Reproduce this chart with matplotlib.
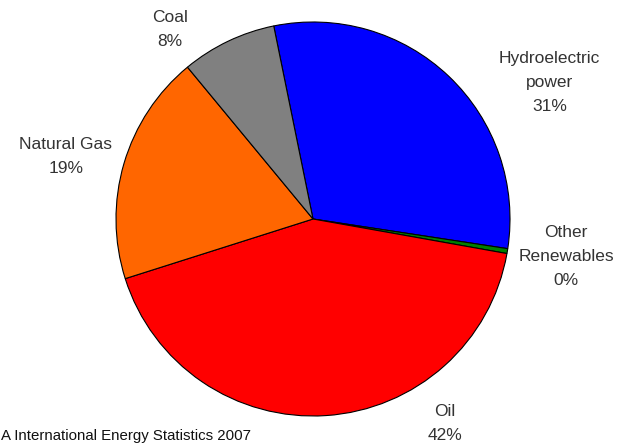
import matplotlib.pyplot as plt

plt.rcParams["font.family"] = ["Liberation Sans", "DejaVu Sans"]

# Share of energy source (%)
labels = ["Hydroelectric\npower", "Other\nRenewables", "Oil", "Natural Gas", "Coal"]
values = [30.6, 0.4, 42.3, 18.9, 7.8]
colors = ["#0000FF", "#008000", "#FF0000", "#FF6600", "#808080"]

# label positions (data coords, pie radius = 1)
label_pos = [(1.20, 0.695), (1.285, -0.19), (0.67, -1.04), (-1.254, 0.315), (-0.726, 0.964)]

W, H = 632, 445
cx, cy, r = 313, 219, 197

fig = plt.figure(figsize=(W / 100, H / 100), dpi=100)
ax = fig.add_axes([(cx - r) / W, (H - cy - r) / H, 2 * r / W, 2 * r / H])

ax.pie(values, colors=colors, startangle=101.5, counterclock=False,
       wedgeprops=dict(edgecolor="black", linewidth=0.8))
ax.set_xlim(-1, 1)
ax.set_ylim(-1, 1)
ax.set_aspect("equal")
ax.axis("off")

for lab, v, (x, y) in zip(labels, values, label_pos):
    ax.text(x, y, f"{lab}\n{v:.0f}%", ha="center", va="center", fontsize=12.5,
            color="#333333", linespacing=1.75, clip_on=False)

fig.text(1 / W, 1 - 436 / H, "A International Energy Statistics 2007", ha="left",
         va="center", fontsize=10.8, color="#111111")

fig.savefig("out.png", dpi=100)
